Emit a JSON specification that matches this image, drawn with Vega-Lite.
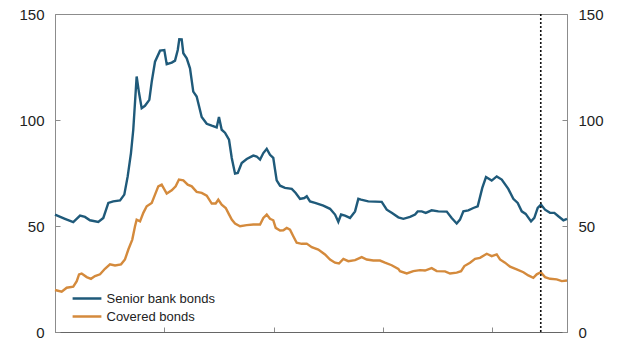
{
  "$schema": "https://vega.github.io/schema/vega-lite/v6.json",
  "width": 512,
  "height": 318,
  "autosize": "none",
  "padding": {"left": 55, "top": 14, "right": 50, "bottom": 11},
  "background": "white",
  "config": {
    "font": "Liberation Sans",
    "view": {"stroke": "#8c8c8c", "strokeWidth": 1},
    "axis": {"domainColor": "#8c8c8c", "tickColor": "#8c8c8c", "grid": false, "labelFont": "Liberation Sans", "labelFontSize": 15, "labelColor": "#222222", "title": null}
  },
  "datasets": {
    "spreads": [
      {"t": 2015.000, "v": 55.4, "s": "Senior bank bonds"},
      {"t": 2015.091, "v": 53.4, "s": "Senior bank bonds"},
      {"t": 2015.167, "v": 51.8, "s": "Senior bank bonds"},
      {"t": 2015.229, "v": 54.9, "s": "Senior bank bonds"},
      {"t": 2015.274, "v": 54.3, "s": "Senior bank bonds"},
      {"t": 2015.320, "v": 52.7, "s": "Senior bank bonds"},
      {"t": 2015.396, "v": 51.9, "s": "Senior bank bonds"},
      {"t": 2015.442, "v": 53.8, "s": "Senior bank bonds"},
      {"t": 2015.488, "v": 60.9, "s": "Senior bank bonds"},
      {"t": 2015.533, "v": 61.6, "s": "Senior bank bonds"},
      {"t": 2015.595, "v": 62.1, "s": "Senior bank bonds"},
      {"t": 2015.634, "v": 64.8, "s": "Senior bank bonds"},
      {"t": 2015.665, "v": 73.4, "s": "Senior bank bonds"},
      {"t": 2015.695, "v": 84.4, "s": "Senior bank bonds"},
      {"t": 2015.716, "v": 95.4, "s": "Senior bank bonds"},
      {"t": 2015.747, "v": 120.5, "s": "Senior bank bonds"},
      {"t": 2015.769, "v": 112.7, "s": "Senior bank bonds"},
      {"t": 2015.793, "v": 105.6, "s": "Senior bank bonds"},
      {"t": 2015.823, "v": 106.7, "s": "Senior bank bonds"},
      {"t": 2015.863, "v": 109.5, "s": "Senior bank bonds"},
      {"t": 2015.885, "v": 118.1, "s": "Senior bank bonds"},
      {"t": 2015.915, "v": 127.5, "s": "Senior bank bonds"},
      {"t": 2015.961, "v": 132.7, "s": "Senior bank bonds"},
      {"t": 2016.000, "v": 133.0, "s": "Senior bank bonds"},
      {"t": 2016.022, "v": 126.3, "s": "Senior bank bonds"},
      {"t": 2016.068, "v": 127.1, "s": "Senior bank bonds"},
      {"t": 2016.098, "v": 128.0, "s": "Senior bank bonds"},
      {"t": 2016.123, "v": 133.0, "s": "Senior bank bonds"},
      {"t": 2016.137, "v": 138.1, "s": "Senior bank bonds"},
      {"t": 2016.159, "v": 138.0, "s": "Senior bank bonds"},
      {"t": 2016.174, "v": 131.5, "s": "Senior bank bonds"},
      {"t": 2016.205, "v": 129.1, "s": "Senior bank bonds"},
      {"t": 2016.235, "v": 124.4, "s": "Senior bank bonds"},
      {"t": 2016.265, "v": 113.4, "s": "Senior bank bonds"},
      {"t": 2016.296, "v": 111.1, "s": "Senior bank bonds"},
      {"t": 2016.342, "v": 101.4, "s": "Senior bank bonds"},
      {"t": 2016.388, "v": 98.2, "s": "Senior bank bonds"},
      {"t": 2016.434, "v": 97.3, "s": "Senior bank bonds"},
      {"t": 2016.479, "v": 96.5, "s": "Senior bank bonds"},
      {"t": 2016.500, "v": 101.4, "s": "Senior bank bonds"},
      {"t": 2016.525, "v": 95.4, "s": "Senior bank bonds"},
      {"t": 2016.555, "v": 94.0, "s": "Senior bank bonds"},
      {"t": 2016.592, "v": 90.7, "s": "Senior bank bonds"},
      {"t": 2016.617, "v": 82.1, "s": "Senior bank bonds"},
      {"t": 2016.647, "v": 74.7, "s": "Senior bank bonds"},
      {"t": 2016.672, "v": 75.0, "s": "Senior bank bonds"},
      {"t": 2016.708, "v": 79.7, "s": "Senior bank bonds"},
      {"t": 2016.754, "v": 81.6, "s": "Senior bank bonds"},
      {"t": 2016.814, "v": 83.2, "s": "Senior bank bonds"},
      {"t": 2016.845, "v": 82.8, "s": "Senior bank bonds"},
      {"t": 2016.876, "v": 81.3, "s": "Senior bank bonds"},
      {"t": 2016.906, "v": 84.4, "s": "Senior bank bonds"},
      {"t": 2016.937, "v": 86.4, "s": "Senior bank bonds"},
      {"t": 2016.967, "v": 83.6, "s": "Senior bank bonds"},
      {"t": 2016.997, "v": 82.1, "s": "Senior bank bonds"},
      {"t": 2017.013, "v": 76.6, "s": "Senior bank bonds"},
      {"t": 2017.028, "v": 71.5, "s": "Senior bank bonds"},
      {"t": 2017.059, "v": 69.0, "s": "Senior bank bonds"},
      {"t": 2017.104, "v": 68.0, "s": "Senior bank bonds"},
      {"t": 2017.166, "v": 67.5, "s": "Senior bank bonds"},
      {"t": 2017.202, "v": 65.6, "s": "Senior bank bonds"},
      {"t": 2017.242, "v": 62.8, "s": "Senior bank bonds"},
      {"t": 2017.281, "v": 63.2, "s": "Senior bank bonds"},
      {"t": 2017.303, "v": 64.0, "s": "Senior bank bonds"},
      {"t": 2017.333, "v": 61.6, "s": "Senior bank bonds"},
      {"t": 2017.379, "v": 60.9, "s": "Senior bank bonds"},
      {"t": 2017.455, "v": 59.6, "s": "Senior bank bonds"},
      {"t": 2017.516, "v": 58.1, "s": "Senior bank bonds"},
      {"t": 2017.562, "v": 55.4, "s": "Senior bank bonds"},
      {"t": 2017.592, "v": 52.0, "s": "Senior bank bonds"},
      {"t": 2017.617, "v": 55.4, "s": "Senior bank bonds"},
      {"t": 2017.653, "v": 54.9, "s": "Senior bank bonds"},
      {"t": 2017.699, "v": 53.8, "s": "Senior bank bonds"},
      {"t": 2017.745, "v": 56.9, "s": "Senior bank bonds"},
      {"t": 2017.775, "v": 62.8, "s": "Senior bank bonds"},
      {"t": 2017.800, "v": 62.4, "s": "Senior bank bonds"},
      {"t": 2017.866, "v": 61.6, "s": "Senior bank bonds"},
      {"t": 2017.989, "v": 61.4, "s": "Senior bank bonds"},
      {"t": 2018.035, "v": 57.7, "s": "Senior bank bonds"},
      {"t": 2018.080, "v": 56.2, "s": "Senior bank bonds"},
      {"t": 2018.141, "v": 54.1, "s": "Senior bank bonds"},
      {"t": 2018.187, "v": 53.4, "s": "Senior bank bonds"},
      {"t": 2018.248, "v": 54.3, "s": "Senior bank bonds"},
      {"t": 2018.294, "v": 55.4, "s": "Senior bank bonds"},
      {"t": 2018.318, "v": 56.9, "s": "Senior bank bonds"},
      {"t": 2018.355, "v": 56.9, "s": "Senior bank bonds"},
      {"t": 2018.392, "v": 56.2, "s": "Senior bank bonds"},
      {"t": 2018.446, "v": 57.4, "s": "Senior bank bonds"},
      {"t": 2018.507, "v": 56.9, "s": "Senior bank bonds"},
      {"t": 2018.584, "v": 56.8, "s": "Senior bank bonds"},
      {"t": 2018.629, "v": 53.8, "s": "Senior bank bonds"},
      {"t": 2018.675, "v": 51.2, "s": "Senior bank bonds"},
      {"t": 2018.705, "v": 53.0, "s": "Senior bank bonds"},
      {"t": 2018.736, "v": 56.9, "s": "Senior bank bonds"},
      {"t": 2018.781, "v": 57.4, "s": "Senior bank bonds"},
      {"t": 2018.827, "v": 58.5, "s": "Senior bank bonds"},
      {"t": 2018.867, "v": 59.3, "s": "Senior bank bonds"},
      {"t": 2018.909, "v": 68.0, "s": "Senior bank bonds"},
      {"t": 2018.943, "v": 73.1, "s": "Senior bank bonds"},
      {"t": 2018.995, "v": 71.4, "s": "Senior bank bonds"},
      {"t": 2019.041, "v": 73.4, "s": "Senior bank bonds"},
      {"t": 2019.087, "v": 71.9, "s": "Senior bank bonds"},
      {"t": 2019.147, "v": 67.5, "s": "Senior bank bonds"},
      {"t": 2019.193, "v": 62.8, "s": "Senior bank bonds"},
      {"t": 2019.233, "v": 60.9, "s": "Senior bank bonds"},
      {"t": 2019.270, "v": 56.9, "s": "Senior bank bonds"},
      {"t": 2019.306, "v": 55.7, "s": "Senior bank bonds"},
      {"t": 2019.355, "v": 52.2, "s": "Senior bank bonds"},
      {"t": 2019.385, "v": 53.8, "s": "Senior bank bonds"},
      {"t": 2019.416, "v": 58.5, "s": "Senior bank bonds"},
      {"t": 2019.446, "v": 60.1, "s": "Senior bank bonds"},
      {"t": 2019.483, "v": 57.7, "s": "Senior bank bonds"},
      {"t": 2019.529, "v": 56.2, "s": "Senior bank bonds"},
      {"t": 2019.568, "v": 56.2, "s": "Senior bank bonds"},
      {"t": 2019.605, "v": 54.6, "s": "Senior bank bonds"},
      {"t": 2019.651, "v": 52.7, "s": "Senior bank bonds"},
      {"t": 2019.684, "v": 53.4, "s": "Senior bank bonds"},
      {"t": 2015.000, "v": 19.8, "s": "Covered bonds"},
      {"t": 2015.061, "v": 19.0, "s": "Covered bonds"},
      {"t": 2015.107, "v": 20.9, "s": "Covered bonds"},
      {"t": 2015.167, "v": 21.4, "s": "Covered bonds"},
      {"t": 2015.199, "v": 24.0, "s": "Covered bonds"},
      {"t": 2015.220, "v": 27.2, "s": "Covered bonds"},
      {"t": 2015.244, "v": 27.6, "s": "Covered bonds"},
      {"t": 2015.290, "v": 25.9, "s": "Covered bonds"},
      {"t": 2015.329, "v": 25.1, "s": "Covered bonds"},
      {"t": 2015.366, "v": 26.4, "s": "Covered bonds"},
      {"t": 2015.412, "v": 27.2, "s": "Covered bonds"},
      {"t": 2015.457, "v": 29.8, "s": "Covered bonds"},
      {"t": 2015.503, "v": 31.9, "s": "Covered bonds"},
      {"t": 2015.549, "v": 31.4, "s": "Covered bonds"},
      {"t": 2015.604, "v": 31.9, "s": "Covered bonds"},
      {"t": 2015.640, "v": 34.2, "s": "Covered bonds"},
      {"t": 2015.671, "v": 38.9, "s": "Covered bonds"},
      {"t": 2015.707, "v": 43.6, "s": "Covered bonds"},
      {"t": 2015.732, "v": 49.9, "s": "Covered bonds"},
      {"t": 2015.747, "v": 53.0, "s": "Covered bonds"},
      {"t": 2015.778, "v": 52.2, "s": "Covered bonds"},
      {"t": 2015.808, "v": 56.2, "s": "Covered bonds"},
      {"t": 2015.839, "v": 59.3, "s": "Covered bonds"},
      {"t": 2015.885, "v": 60.9, "s": "Covered bonds"},
      {"t": 2015.915, "v": 64.8, "s": "Covered bonds"},
      {"t": 2015.945, "v": 68.7, "s": "Covered bonds"},
      {"t": 2015.976, "v": 69.5, "s": "Covered bonds"},
      {"t": 2016.022, "v": 65.3, "s": "Covered bonds"},
      {"t": 2016.068, "v": 66.8, "s": "Covered bonds"},
      {"t": 2016.104, "v": 68.7, "s": "Covered bonds"},
      {"t": 2016.134, "v": 71.9, "s": "Covered bonds"},
      {"t": 2016.174, "v": 71.5, "s": "Covered bonds"},
      {"t": 2016.214, "v": 69.5, "s": "Covered bonds"},
      {"t": 2016.251, "v": 68.7, "s": "Covered bonds"},
      {"t": 2016.296, "v": 66.1, "s": "Covered bonds"},
      {"t": 2016.342, "v": 65.6, "s": "Covered bonds"},
      {"t": 2016.388, "v": 64.3, "s": "Covered bonds"},
      {"t": 2016.434, "v": 60.6, "s": "Covered bonds"},
      {"t": 2016.470, "v": 60.6, "s": "Covered bonds"},
      {"t": 2016.494, "v": 62.4, "s": "Covered bonds"},
      {"t": 2016.525, "v": 60.1, "s": "Covered bonds"},
      {"t": 2016.562, "v": 58.5, "s": "Covered bonds"},
      {"t": 2016.592, "v": 55.5, "s": "Covered bonds"},
      {"t": 2016.617, "v": 53.0, "s": "Covered bonds"},
      {"t": 2016.647, "v": 51.2, "s": "Covered bonds"},
      {"t": 2016.693, "v": 49.9, "s": "Covered bonds"},
      {"t": 2016.754, "v": 50.4, "s": "Covered bonds"},
      {"t": 2016.814, "v": 50.7, "s": "Covered bonds"},
      {"t": 2016.876, "v": 50.7, "s": "Covered bonds"},
      {"t": 2016.906, "v": 53.8, "s": "Covered bonds"},
      {"t": 2016.937, "v": 55.4, "s": "Covered bonds"},
      {"t": 2016.967, "v": 53.4, "s": "Covered bonds"},
      {"t": 2016.997, "v": 52.7, "s": "Covered bonds"},
      {"t": 2017.019, "v": 49.1, "s": "Covered bonds"},
      {"t": 2017.059, "v": 47.9, "s": "Covered bonds"},
      {"t": 2017.089, "v": 48.0, "s": "Covered bonds"},
      {"t": 2017.120, "v": 49.1, "s": "Covered bonds"},
      {"t": 2017.150, "v": 48.3, "s": "Covered bonds"},
      {"t": 2017.180, "v": 45.2, "s": "Covered bonds"},
      {"t": 2017.211, "v": 42.1, "s": "Covered bonds"},
      {"t": 2017.257, "v": 41.6, "s": "Covered bonds"},
      {"t": 2017.303, "v": 41.7, "s": "Covered bonds"},
      {"t": 2017.349, "v": 40.0, "s": "Covered bonds"},
      {"t": 2017.409, "v": 38.9, "s": "Covered bonds"},
      {"t": 2017.470, "v": 36.6, "s": "Covered bonds"},
      {"t": 2017.516, "v": 34.2, "s": "Covered bonds"},
      {"t": 2017.562, "v": 32.7, "s": "Covered bonds"},
      {"t": 2017.598, "v": 32.3, "s": "Covered bonds"},
      {"t": 2017.638, "v": 34.5, "s": "Covered bonds"},
      {"t": 2017.683, "v": 33.4, "s": "Covered bonds"},
      {"t": 2017.745, "v": 33.9, "s": "Covered bonds"},
      {"t": 2017.806, "v": 35.3, "s": "Covered bonds"},
      {"t": 2017.852, "v": 34.2, "s": "Covered bonds"},
      {"t": 2017.912, "v": 33.7, "s": "Covered bonds"},
      {"t": 2017.973, "v": 33.7, "s": "Covered bonds"},
      {"t": 2018.019, "v": 32.7, "s": "Covered bonds"},
      {"t": 2018.080, "v": 31.5, "s": "Covered bonds"},
      {"t": 2018.141, "v": 29.8, "s": "Covered bonds"},
      {"t": 2018.156, "v": 28.7, "s": "Covered bonds"},
      {"t": 2018.218, "v": 27.6, "s": "Covered bonds"},
      {"t": 2018.278, "v": 28.7, "s": "Covered bonds"},
      {"t": 2018.339, "v": 29.2, "s": "Covered bonds"},
      {"t": 2018.385, "v": 29.0, "s": "Covered bonds"},
      {"t": 2018.446, "v": 30.1, "s": "Covered bonds"},
      {"t": 2018.492, "v": 28.7, "s": "Covered bonds"},
      {"t": 2018.568, "v": 28.6, "s": "Covered bonds"},
      {"t": 2018.614, "v": 27.6, "s": "Covered bonds"},
      {"t": 2018.675, "v": 28.0, "s": "Covered bonds"},
      {"t": 2018.715, "v": 28.7, "s": "Covered bonds"},
      {"t": 2018.745, "v": 31.1, "s": "Covered bonds"},
      {"t": 2018.797, "v": 32.7, "s": "Covered bonds"},
      {"t": 2018.843, "v": 34.5, "s": "Covered bonds"},
      {"t": 2018.888, "v": 35.0, "s": "Covered bonds"},
      {"t": 2018.950, "v": 36.9, "s": "Covered bonds"},
      {"t": 2018.995, "v": 35.8, "s": "Covered bonds"},
      {"t": 2019.041, "v": 36.6, "s": "Covered bonds"},
      {"t": 2019.071, "v": 34.2, "s": "Covered bonds"},
      {"t": 2019.117, "v": 32.7, "s": "Covered bonds"},
      {"t": 2019.163, "v": 30.8, "s": "Covered bonds"},
      {"t": 2019.224, "v": 29.5, "s": "Covered bonds"},
      {"t": 2019.285, "v": 28.2, "s": "Covered bonds"},
      {"t": 2019.330, "v": 26.7, "s": "Covered bonds"},
      {"t": 2019.376, "v": 25.6, "s": "Covered bonds"},
      {"t": 2019.407, "v": 27.2, "s": "Covered bonds"},
      {"t": 2019.444, "v": 28.2, "s": "Covered bonds"},
      {"t": 2019.483, "v": 25.9, "s": "Covered bonds"},
      {"t": 2019.529, "v": 25.1, "s": "Covered bonds"},
      {"t": 2019.590, "v": 24.8, "s": "Covered bonds"},
      {"t": 2019.636, "v": 24.0, "s": "Covered bonds"},
      {"t": 2019.684, "v": 24.3, "s": "Covered bonds"}
    ],
    "marker": [{"t": 2019.444}]
  },
  "layer": [
    {
      "data": {"name": "spreads"},
      "mark": {"type": "line", "strokeWidth": 2.4, "interpolate": "linear"},
      "encoding": {
        "x": {"field": "t", "type": "quantitative", "scale": {"domain": [2015, 2019.684], "nice": false, "zero": false},
              "axis": {"values": [2016, 2017, 2018, 2019], "labels": false, "tickSize": -5, "domainColor": "#666666", "tickColor": "#8c8c8c"}},
        "y": {"field": "v", "type": "quantitative", "scale": {"domain": [0, 150], "nice": false},
              "axis": {"orient": "left", "values": [0, 50, 100, 150], "tickSize": -5, "labelPadding": 16}},
        "color": {"field": "s", "type": "nominal",
                  "scale": {"domain": ["Senior bank bonds", "Covered bonds"], "range": ["#1f5a7a", "#d48a3c"]},
                  "legend": {"title": null, "orient": "none", "legendX": 21.5, "legendY": 274, "padding": 0,
                             "symbolType": "M-1.6,0H1.6", "symbolSize": 324, "symbolStrokeWidth": 2.5,
                             "labelFontSize": 13, "labelColor": "#222222", "labelFont": "Liberation Sans",
                             "labelOffset": 9, "rowPadding": 0}}
      }
    },
    {
      "data": {"name": "marker"},
      "mark": {"type": "rule", "color": "#111111", "strokeWidth": 1.6, "strokeDash": [2, 2]},
      "encoding": {
        "x": {"field": "t", "type": "quantitative"},
        "y": {"datum": 0, "type": "quantitative",
              "axis": {"orient": "right", "values": [0, 50, 100, 150], "tickSize": -5, "labelPadding": 16}},
        "y2": {"datum": 150}
      }
    }
  ],
  "resolve": {"axis": {"y": "independent"}}
}
